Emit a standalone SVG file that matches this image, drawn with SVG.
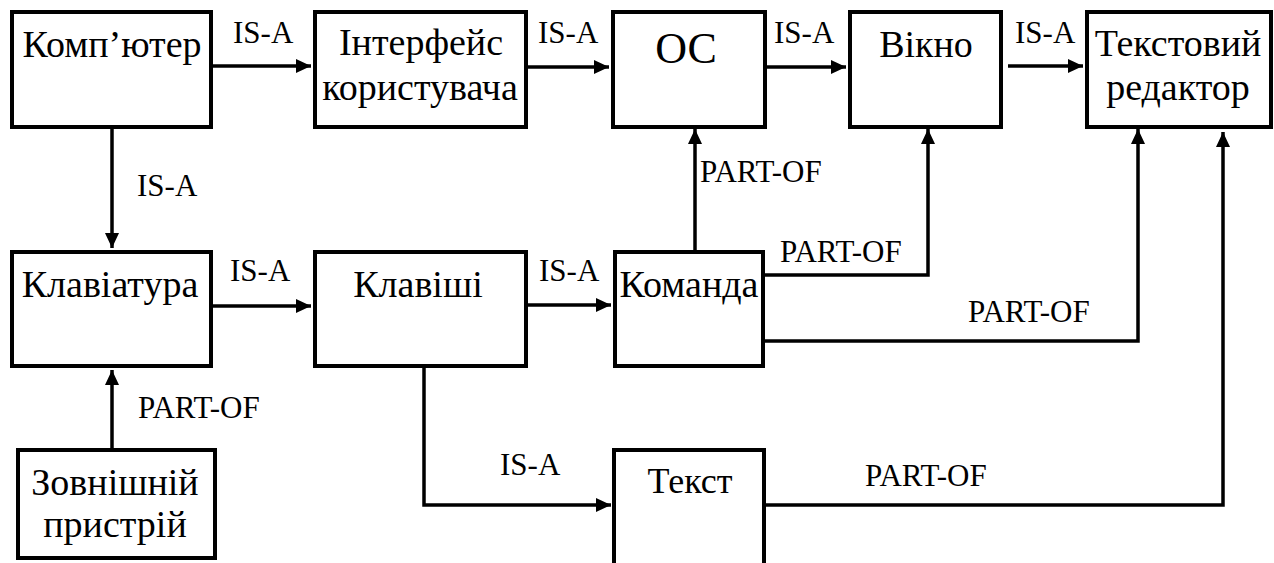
<svg xmlns="http://www.w3.org/2000/svg" width="1274" height="563" viewBox="0 0 1274 563">
  <defs>
    <marker id="arrow" markerUnits="userSpaceOnUse" markerWidth="16" markerHeight="16" viewBox="0 0 16 16" refX="15" refY="8" orient="auto">
      <path d="M0,1 L15,8 L0,15 Z" fill="#000"/>
    </marker>
  </defs>

  <rect width="1274" height="563" fill="#fff"/>

  <!-- connectors: lines with arrowheads, and their relation labels -->
  <g id="connectors">
    <g fill="none" stroke="#000" stroke-width="3.5" marker-end="url(#arrow)">
      <path d="M213,66 L311,66"/>
      <path d="M528,67 L609,67"/>
      <path d="M767,67 L846,67"/>
      <path d="M1008,66 L1083,66"/>
      <path d="M112,129 L112,248"/>
      <path d="M213,306 L311,306"/>
      <path d="M528,305 L611,305"/>
      <path d="M112,448 L112,370"/>
      <path d="M695,250 L695,129"/>
      <path d="M765,275 L928,275 L928,129"/>
      <path d="M765,341 L1138,341 L1138,129"/>
      <path d="M424,368 L424,505 L611,505"/>
      <path d="M766,505 L1223,505 L1223,132"/>
    </g>
    <g font-family="Liberation Serif" font-size="31" fill="#000">
      <text x="233" y="43">IS-A</text>
      <text x="538" y="43">IS-A</text>
      <text x="774" y="43">IS-A</text>
      <text x="1015" y="43">IS-A</text>
      <text x="137" y="196">IS-A</text>
      <text x="230" y="281">IS-A</text>
      <text x="539" y="281">IS-A</text>
      <text x="500" y="475">IS-A</text>
      <text x="700" y="182">PART-OF</text>
      <text x="780" y="262">PART-OF</text>
      <text x="968" y="322">PART-OF</text>
      <text x="138" y="418">PART-OF</text>
      <text x="865" y="486">PART-OF</text>
    </g>
  </g>

  <!-- concepts -->
  <g id="nodes" font-family="Liberation Serif" font-size="38" text-anchor="middle">
    <g id="computer">
      <rect x="12" y="12" width="199" height="115" fill="#fff" stroke="#000" stroke-width="4"/>
      <text x="112" y="57">Комп’ютер</text>
    </g>
    <g id="ui">
      <rect x="315" y="12" width="211" height="115" fill="#fff" stroke="#000" stroke-width="4"/>
      <text x="421" y="55">Інтерфейс</text>
      <text x="420" y="100">користувача</text>
    </g>
    <g id="os">
      <rect x="613" y="12" width="152" height="115" fill="#fff" stroke="#000" stroke-width="4"/>
      <text x="686" y="63" font-size="44">ОС</text>
    </g>
    <g id="window">
      <rect x="850" y="12" width="151" height="115" fill="#fff" stroke="#000" stroke-width="4"/>
      <text x="926" y="57">Вікно</text>
    </g>
    <g id="editor">
      <rect x="1087" y="12" width="184" height="115" fill="#fff" stroke="#000" stroke-width="4"/>
      <text x="1178" y="56">Текстовий</text>
      <text x="1178" y="100">редактор</text>
    </g>
    <g id="keyboard">
      <rect x="12" y="252" width="199" height="114" fill="#fff" stroke="#000" stroke-width="4"/>
      <text x="110" y="297">Клавіатура</text>
    </g>
    <g id="keys">
      <rect x="315" y="252" width="211" height="114" fill="#fff" stroke="#000" stroke-width="4"/>
      <text x="418" y="297">Клавіші</text>
    </g>
    <g id="command">
      <rect x="615" y="252" width="148" height="114" fill="#fff" stroke="#000" stroke-width="4"/>
      <text x="689" y="297">Команда</text>
    </g>
    <g id="device">
      <rect x="18" y="450" width="197" height="108" fill="#fff" stroke="#000" stroke-width="4"/>
      <text x="115" y="495">Зовнішній</text>
      <text x="115" y="537">пристрій</text>
    </g>
    <g id="textnode">
      <rect x="614" y="450" width="150" height="150" fill="#fff" stroke="#000" stroke-width="4"/>
      <text x="690" y="493" font-size="36">Текст</text>
    </g>
  </g>
</svg>
